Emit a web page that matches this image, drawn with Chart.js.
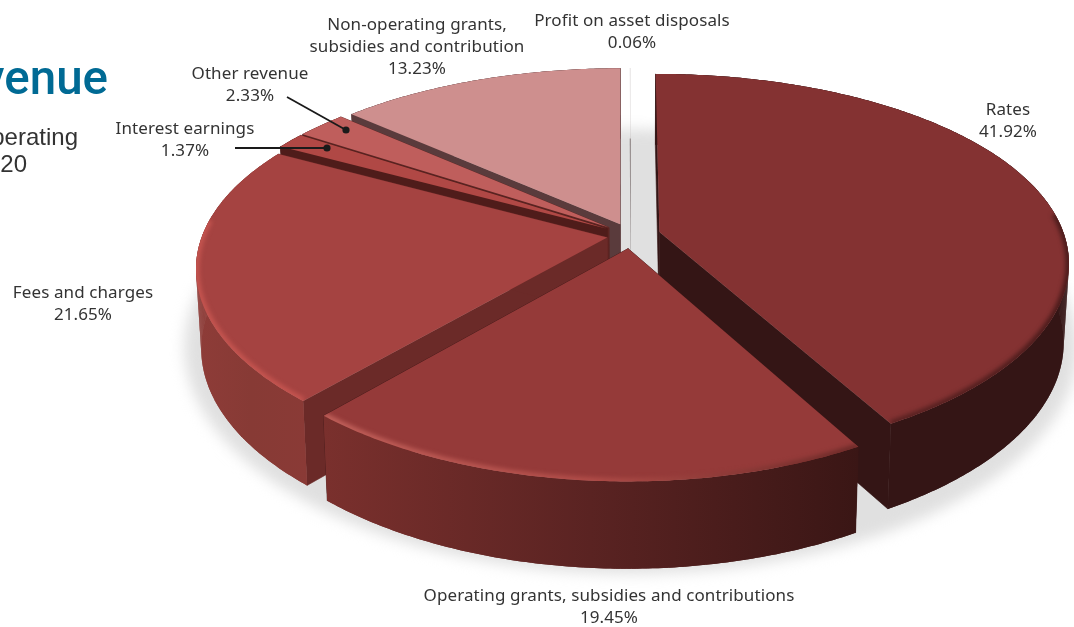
<!DOCTYPE html>
<html>
<head>
<meta charset="utf-8">
<title>Revenue</title>
<script src="https://cdn.jsdelivr.net/npm/chart.js@4/dist/chart.umd.min.js"></script>
<style>
    body { margin: 0; background: #fff; }
    canvas { display: block; }
</style>
</head>
<body>
<canvas id="revenueChart" width="1074" height="627"></canvas>
<script>
const categories = ['Rates', 'Operating grants, subsidies and contributions', 'Fees and charges', 'Interest earnings', 'Other revenue', 'Non-operating grants, subsidies and contribution', 'Profit on asset disposals'];
const shares = [41.92, 19.45, 21.65, 1.37, 2.33, 13.23, 0.06];

const NONE = 'rgba(0,0,0,0)';
const topColors = ['#843232', '#953a39', '#a54341', '#b04845', '#bf5e5c', '#ce8f8e', 'rgba(120,100,100,0.15)'];
const cutColors = ['#341515', '#3a1615', '#6b2a28', '#4f1c1a', '#5a2422', '#5a3b3c', NONE];
const wallColors = [
    ['#341515', '#341515'],
    ['#7a302d', '#5a2322', '#3a1615'],
    ['#8e3c38', '#873a35', '#8a3a36'],
    ['#4f1c1a', '#4f1c1a'],
    ['#5a2422', '#5a2422'],
    ['#5a3b3c', '#5a3b3c'],
    [NONE, NONE]
];
const rimColors = [
    ['#5a2222', '#4a1b1b'],
    ['#c0605a', '#b04c48', '#6b2a28'],
    ['#c4544f', '#c4544f'],
    null, null, null, null
];
// only the thin disposals sliver shows its underside through the gap
const floorColors = [null, null, null, null, null, null, 'rgba(130,120,120,0.75)'];
// slice offsets in px, pulled out along each slice's middle angle
const sliceOffsets = [22, 21, 18, 21, 21, 20, 19];
// back to front
const drawOrder = [6, 5, 4, 3, 2, 0, 1];

// label lines and where they sit
const labelLines = [
    [categories[0]],
    [categories[1]],
    [categories[2]],
    [categories[3]],
    [categories[4]],
    ['Non-operating grants,', 'subsidies and contribution'],
    [categories[6]]
];
const labelPos = [[1008, 115], [609, 601], [83, 298], [185, 134], [250, 79], [417, 30], [632, 26]];

// tilted disc camera
const CX = 631, CY = 235.5, RX = 405, RY = 187, PERSP_X = 0.155, PERSP_Y = 0.175, PERSP_Z = 0.1, DEPTH = 78, SHRINK = 0.012;

function project(u, v, z) {
    const s = 1 - SHRINK * z;
    return [
        CX + RX * u * s / (1 - PERSP_X * v),
        CY + RY * v / (1 - PERSP_Y * v) + DEPTH * z / (1 - PERSP_Z * v)
    ];
}

function geometry(el) {
    const r = el.outerRadius;
    const off = el.options.offset / r;
    const mid = (el.startAngle + el.endAngle) / 2;
    const ox = off * Math.cos(mid), oy = off * Math.sin(mid);
    const steps = Math.max(2, Math.ceil((el.endAngle - el.startAngle) * 90));
    const angles = [];
    for (let i = 0; i <= steps; i++) {
        angles.push(el.startAngle + (el.endAngle - el.startAngle) * i / steps);
    }
    return { ox, oy, angles };
}

function rimPoint(g, a, z) {
    return project(g.ox + Math.cos(a), g.oy + Math.sin(a), z);
}

function tracePath(ctx, pts) {
    ctx.beginPath();
    pts.forEach((p, i) => i ? ctx.lineTo(p[0], p[1]) : ctx.moveTo(p[0], p[1]));
    ctx.closePath();
}

function hGradient(ctx, pts, stops) {
    const xs = pts.map(p => p[0]);
    const g = ctx.createLinearGradient(Math.min(...xs), 0, Math.max(...xs), 0);
    stops.forEach((c, i) => g.addColorStop(i / (stops.length - 1), c));
    return g;
}

function drawShadow(ctx) {
    ctx.save();
    ctx.filter = 'blur(7px)';
    ctx.fillStyle = '#e0e0e0';
    ctx.translate(0, -4);
    ctx.beginPath();
    for (let i = 0; i <= 180; i++) {
        const a = i / 180 * Math.PI * 2;
        const p = project(1.1 * Math.cos(a), 1.1 * Math.sin(a), 1);
        i ? ctx.lineTo(p[0], p[1]) : ctx.moveTo(p[0], p[1]);
    }
    ctx.closePath();
    ctx.fill();
    ctx.restore();
}

function fillAndSeal(ctx, style) {
    ctx.fillStyle = style;
    ctx.strokeStyle = style;
    ctx.lineWidth = 0.6;
    ctx.fill();
    ctx.stroke();
}

function drawSlice(ctx, el, i) {
    const g = geometry(el);
    const apexTop = project(g.ox, g.oy, 0);
    const apexBottom = project(g.ox, g.oy, 1);
    const top = g.angles.map(a => rimPoint(g, a, 0));
    const bottom = g.angles.map(a => rimPoint(g, a, 1));

    if (floorColors[i]) {
        ctx.fillStyle = floorColors[i];
        tracePath(ctx, [apexBottom].concat(bottom));
        ctx.fill();
    }

    // the two cut faces
    tracePath(ctx, [apexTop, top[0], bottom[0], apexBottom]);
    fillAndSeal(ctx, cutColors[i]);
    tracePath(ctx, [apexTop, top[top.length - 1], bottom[bottom.length - 1], apexBottom]);
    fillAndSeal(ctx, cutColors[i]);

    // outer wall: one band for the body, then strips so the side silhouette stays straight
    const band = top.concat(bottom.slice().reverse());
    const wallStyle = hGradient(ctx, band, wallColors[i]);
    ctx.fillStyle = wallStyle;
    tracePath(ctx, band);
    ctx.fill();
    for (let n = 0; n < top.length - 1; n++) {
        tracePath(ctx, [top[n], top[n + 1], bottom[n + 1], bottom[n]]);
        ctx.fill();
    }

    // top face
    const face = [apexTop].concat(top);
    ctx.fillStyle = el.options.backgroundColor;
    tracePath(ctx, face);
    ctx.fill();

    // soft bevel along the near edge
    if (rimColors[i]) {
        const near = g.angles.filter(a => Math.sin(a) > -0.1).map(a => rimPoint(g, a, 0));
        ctx.save();
        tracePath(ctx, face);
        ctx.clip();
        ctx.filter = 'blur(2px)';
        ctx.strokeStyle = hGradient(ctx, near, rimColors[i]);
        ctx.lineWidth = 7;
        ctx.beginPath();
        near.forEach((p, n) => n ? ctx.lineTo(p[0], p[1]) : ctx.moveTo(p[0], p[1]));
        ctx.stroke();
        ctx.restore();
    }
}

function drawLabels(ctx) {
    ctx.fillStyle = '#333333';
    ctx.font = '17px "Noto Sans"';
    ctx.letterSpacing = '0.1px';
    ctx.textAlign = 'center';
    ctx.textBaseline = 'alphabetic';
    labelLines.forEach((lines, i) => {
        const rows = lines.concat(shares[i].toFixed(2) + '%');
        rows.forEach((row, n) => ctx.fillText(row, labelPos[i][0], labelPos[i][1] + n * 22));
    });
    ctx.letterSpacing = '0px';
}

function drawLeader(ctx, x0, y0, x1, y1) {
    ctx.strokeStyle = '#1a1a1a';
    ctx.fillStyle = '#1a1a1a';
    ctx.lineWidth = 1.8;
    ctx.beginPath();
    ctx.moveTo(x0, y0);
    ctx.lineTo(x1, y1);
    ctx.stroke();
    ctx.beginPath();
    ctx.arc(x1, y1, 3.6, 0, Math.PI * 2);
    ctx.fill();
}

function drawHeading(ctx) {
    ctx.textAlign = 'right';
    ctx.fillStyle = '#006a94';
    ctx.font = '500 47.5px Roboto';
    ctx.fillText('Revenue', 108, 94);
    ctx.fillStyle = '#333333';
    ctx.font = '24px "Liberation Sans"';
    ctx.fillText('Operating', 78, 145);
    ctx.fillText('2019-20', 27, 172);
}

// arcs keep their angles and offsets from Chart.js, only the painting goes through the tilt
const tiltedPie = {
    id: 'tiltedPie',
    beforeDatasetsDraw(chart) {
        const ctx = chart.ctx;
        const arcs = chart.getDatasetMeta(0).data;
        ctx.save();
        drawShadow(ctx);
        drawOrder.forEach(i => drawSlice(ctx, arcs[i], i));
        ctx.restore();
        return false;
    },
    afterDraw(chart) {
        const ctx = chart.ctx;
        ctx.save();
        drawLabels(ctx);
        drawLeader(ctx, 287, 97, 346, 130);
        drawLeader(ctx, 235, 148, 327, 148);
        drawHeading(ctx);
        ctx.restore();
    }
};

document.addEventListener('DOMContentLoaded', function() {
    new Chart(document.getElementById('revenueChart'), {
        type: 'pie',
        data: {
            labels: categories,
            datasets: [{
                data: shares,
                backgroundColor: topColors,
                offset: sliceOffsets,
                borderWidth: 0
            }]
        },
        options: {
            responsive: false,
            animation: false,
            plugins: {
                legend: { display: false },
                tooltip: { enabled: false }
            }
        },
        plugins: [tiltedPie]
    });
});
</script>
</body>
</html>
